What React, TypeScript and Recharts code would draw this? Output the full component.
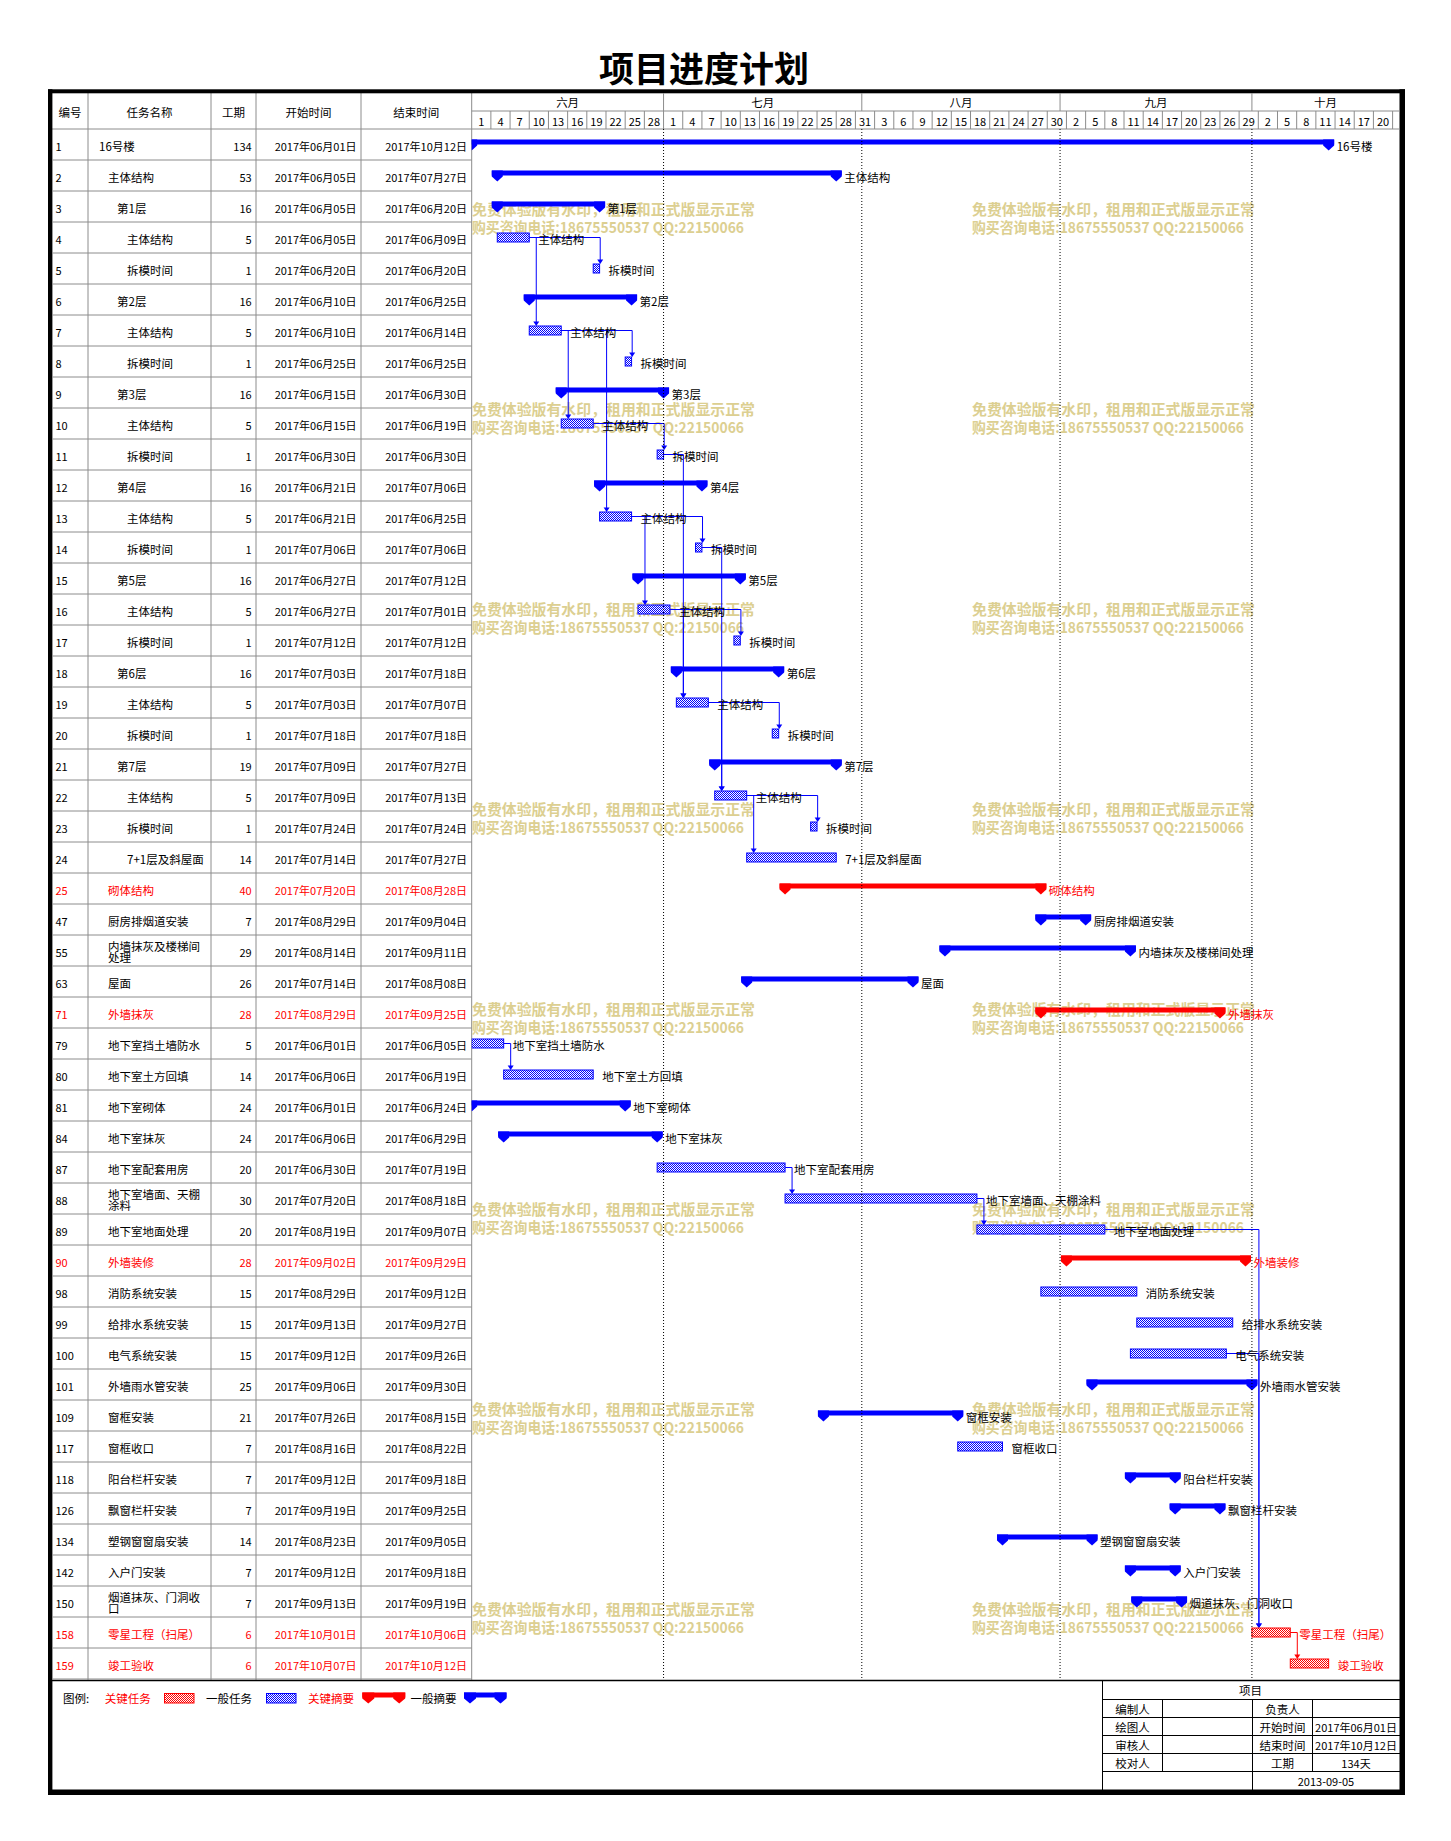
import React from 'react';
import { ComposedChart, Bar, XAxis, YAxis, ReferenceLine } from 'recharts';

// ---- 数据 ----
const taskIds = ['1', '2', '3', '4', '5', '6', '7', '8', '9', '10', '11', '12', '13', '14', '15', '16', '17', '18', '19', '20', '21', '22', '23', '24', '25', '47', '55', '63', '71', '79', '80', '81', '84', '87', '88', '89', '90', '98', '99', '100', '101', '109', '117', '118', '126', '134', '142', '150', '158', '159'];
const taskNames = ['16号楼', '主体结构', '第1层', '主体结构', '拆模时间', '第2层', '主体结构', '拆模时间', '第3层', '主体结构', '拆模时间', '第4层', '主体结构', '拆模时间', '第5层', '主体结构', '拆模时间', '第6层', '主体结构', '拆模时间', '第7层', '主体结构', '拆模时间', '7+1层及斜屋面', '砌体结构', '厨房排烟道安装', '内墙抹灰及楼梯间处理', '屋面', '外墙抹灰', '地下室挡土墙防水', '地下室土方回填', '地下室砌体', '地下室抹灰', '地下室配套用房', '地下室墙面、天棚涂料', '地下室地面处理', '外墙装修', '消防系统安装', '给排水系统安装', '电气系统安装', '外墙雨水管安装', '窗框安装', '窗框收口', '阳台栏杆安装', '飘窗栏杆安装', '塑钢窗窗扇安装', '入户门安装', '烟道抹灰、门洞收口', '零星工程（扫尾）', '竣工验收'];
const taskLevels = [0, 1, 2, 3, 3, 2, 3, 3, 2, 3, 3, 2, 3, 3, 2, 3, 3, 2, 3, 3, 2, 3, 3, 3, 1, 1, 1, 1, 1, 1, 1, 1, 1, 1, 1, 1, 1, 1, 1, 1, 1, 1, 1, 1, 1, 1, 1, 1, 1, 1];
const durations = [134, 53, 16, 5, 1, 16, 5, 1, 16, 5, 1, 16, 5, 1, 16, 5, 1, 16, 5, 1, 19, 5, 1, 14, 40, 7, 29, 26, 28, 5, 14, 24, 24, 20, 30, 20, 28, 15, 15, 15, 25, 21, 7, 7, 7, 14, 7, 7, 6, 6];
const startDates = ['06-01', '06-05', '06-05', '06-05', '06-20', '06-10', '06-10', '06-25', '06-15', '06-15', '06-30', '06-21', '06-21', '07-06', '06-27', '06-27', '07-12', '07-03', '07-03', '07-18', '07-09', '07-09', '07-24', '07-14', '07-20', '08-29', '08-14', '07-14', '08-29', '06-01', '06-06', '06-01', '06-06', '06-30', '07-20', '08-19', '09-02', '08-29', '09-13', '09-12', '09-06', '07-26', '08-16', '09-12', '09-19', '08-23', '09-12', '09-13', '10-01', '10-07'];
const endDates = ['10-12', '07-27', '06-20', '06-09', '06-20', '06-25', '06-14', '06-25', '06-30', '06-19', '06-30', '07-06', '06-25', '07-06', '07-12', '07-01', '07-12', '07-18', '07-07', '07-18', '07-27', '07-13', '07-24', '07-27', '08-28', '09-04', '09-11', '08-08', '09-25', '06-05', '06-19', '06-24', '06-29', '07-19', '08-18', '09-07', '09-29', '09-12', '09-27', '09-26', '09-30', '08-15', '08-22', '09-18', '09-25', '09-05', '09-18', '09-19', '10-06', '10-12'];
const summaryIds = ['1', '2', '3', '6', '9', '12', '15', '18', '21', '25', '47', '55', '63', '71', '81', '84', '90', '101', '109', '118', '126', '134', '142', '150'];
const criticalIds = ['25', '71', '90', '158', '159'];
const links: [string, string][] = [
  ['4', '5'], ['4', '7'], ['7', '8'], ['7', '10'], ['7', '13'], ['10', '11'], ['11', '19'],
  ['13', '14'], ['13', '16'], ['14', '22'], ['16', '17'], ['16', '19'], ['19', '20'], ['19', '22'],
  ['22', '23'], ['22', '24'], ['79', '80'], ['87', '88'], ['88', '89'], ['89', '158'], ['100', '158'], ['158', '159'],
];

const monthNames = ['六月', '七月', '八月', '九月', '十月'];
const monthStarts = [0, 30, 61, 92, 122];
const AXIS_END = 145;
const dayLabels = [
  1, 4, 7, 10, 13, 16, 19, 22, 25, 28,
  1, 4, 7, 10, 13, 16, 19, 22, 25, 28, 31,
  3, 6, 9, 12, 15, 18, 21, 24, 27, 30,
  2, 5, 8, 11, 14, 17, 20, 23, 26, 29,
  2, 5, 8, 11, 14, 17, 20,
];

const headerCols = ['编号', '任务名称', '工期', '开始时间', '结束时间'];
const legendItems = ['关键任务', '一般任务', '关键摘要', '一般摘要'];
const infoLeft = ['编制人', '绘图人', '审核人', '校对人'];
const infoRight = ['负责人', '开始时间', '结束时间', '工期'];
const infoValues = ['', '2017年06月01日', '2017年10月12日', '134天'];
const wmLine1 = '免费体验版有水印，租用和正式版显示正常';
const wmLine2 = '购买咨询电话:18675550537 QQ:22150066';

// ---- 布局 ----
const W = 1451;
const H = 1841;
const PLOT_L = 471.7;
const PLOT_R = 1399;
const PLOT_T = 129;
const PLOT_B = 1679;
const ROW_H = 31;
const COL_X = [88, 211, 256, 361, PLOT_L];
const HEAD_X = [70, 149.5, 233.5, 308.5, 416.3];
const NAME_X = [99, 108, 117, 127];
const FONT = '"Noto Sans CJK SC", "Noto Sans", sans-serif';
const BLUE = '#0000ff';
const RED = '#ff0000';
const GRID = '#8c8c8c';
const WM = '#dccf91';

const MONTH_OFFSET: Record<string, number> = { '06': 0, '07': 30, '08': 61, '09': 92, '10': 122 };
const dayIndex = (md: string) => MONTH_OFFSET[md.slice(0, 2)] + Number(md.slice(3)) - 1;
const fmtDate = (md: string) => `2017年${md.slice(0, 2)}月${md.slice(3)}日`;

type Row = {
  key: string; index: number; name: string; level: number; duration: number;
  startDate: string; endDate: string; offset: number; span: number;
  summary: boolean; critical: boolean; succ: string[];
};

const rows: Row[] = taskIds.map((id, i) => {
  const s = dayIndex(startDates[i]);
  const e = dayIndex(endDates[i]) + 1;
  return {
    key: id, index: i, name: taskNames[i], level: taskLevels[i], duration: durations[i],
    startDate: startDates[i], endDate: endDates[i], offset: s, span: e - s,
    summary: summaryIds.includes(id), critical: criticalIds.includes(id),
    succ: links.filter((l) => l[0] === id).map((l) => l[1]),
  };
});
const rowMap: Record<string, Row> = Object.fromEntries(rows.map((r) => [r.key, r]));

const dayLabelTicks = dayLabels.map((_, i) => i * 3 + 1.5);
const cellTicks = Array.from({ length: 48 }, (_, i) => (i + 1) * 3);
const gridTicks = Array.from(new Set([...cellTicks, ...monthStarts.slice(1)])).sort((a, b) => a - b);
const monthEnds = [...monthStarts.slice(1), AXIS_END];
const monthMidTicks = monthStarts.map((s, i) => (s + monthEnds[i]) / 2);

const capPoints = (cx: number, top: number, hw = 5.5) =>
  `${cx - hw},${top} ${cx + hw},${top} ${cx + hw},${top + 6} ${cx},${top + 11} ${cx - hw},${top + 6}`;

// ---- 刻度渲染 ----
const renderDayTick = (props: any) => {
  const i = Math.round((props.payload.value - 1.5) / 3);
  return (
    <text x={props.x} y={120.5} textAnchor="middle" dominantBaseline="central" fontSize={11} fontFamily={FONT} fill="#000">
      {dayLabels[i]}
    </text>
  );
};

// 表头分隔线与月份虚线，位置取自 x 轴比例尺
const gridShape = (v: number) => (p: any) => (
  <g>
    {v % 3 === 0 && <line x1={p.x1} x2={p.x1} y1={111} y2={PLOT_T} stroke={GRID} />}
    {monthStarts.includes(v) && <line x1={p.x1} x2={p.x1} y1={93} y2={111} stroke={GRID} />}
    {monthStarts.includes(v) && (
      <line x1={p.x1} x2={p.x2} y1={p.y1} y2={p.y2} stroke="#000" strokeWidth={1} strokeDasharray="1 2" />
    )}
  </g>
);

const monthShape = (i: number) => (p: any) => (
  <text x={p.x1} y={102} textAnchor="middle" dominantBaseline="central" fontSize={11.5} fontFamily={FONT} fill="#000">
    {monthNames[i]}
  </text>
);

const renderRowTick = (props: any) => {
  const { y, payload } = props;
  const r = rowMap[payload.value];
  if (!r) return <g />;
  const color = r.critical ? RED : '#000';
  const nameLines = r.name.length > 8 ? [r.name.slice(0, 8), r.name.slice(8)] : [r.name];
  return (
    <g fontFamily={FONT} fill={color}>
      <text x={55.5} y={y + 1} fontSize={11} dominantBaseline="central">{r.key}</text>
      {nameLines.map((s, k) => (
        <text key={k} x={NAME_X[r.level]} y={nameLines.length === 1 ? y + 1 : y - 5 + k * 11.5} fontSize={11.5} dominantBaseline="central">{s}</text>
      ))}
      <text x={251.7} y={y + 1} fontSize={11} textAnchor="end" dominantBaseline="central">{r.duration}</text>
      <text x={356.5} y={y + 1} fontSize={11} textAnchor="end" dominantBaseline="central">{fmtDate(r.startDate)}</text>
      <text x={467} y={y + 1} fontSize={11} textAnchor="end" dominantBaseline="central">{fmtDate(r.endDate)}</text>
      <line x1={52} x2={PLOT_L} y1={y + ROW_H / 2} y2={y + ROW_H / 2} stroke={GRID} />
    </g>
  );
};

// ---- 横道 ----
const renderBar = (props: any) => {
  const { x, y, width, height, payload } = props;
  const r: Row = payload;
  const cy = y + height / 2;
  const color = r.critical ? RED : BLUE;
  const x2 = x + width;
  const ppd = width / r.span;
  return (
    <g>
      {r.summary ? (
        <g fill={color}>
          <rect x={x - 5.5} y={cy - 5} width={width + 11} height={5} />
          <polygon points={capPoints(x, cy - 5)} />
          <polygon points={capPoints(x2, cy - 5)} />
        </g>
      ) : (
        <rect x={x} y={cy - 4.5} width={width} height={9} fill={r.critical ? 'url(#hatchRed)' : 'url(#hatchBlue)'} stroke={color} strokeWidth={1} />
      )}
      {r.succ.map((sid) => {
        const t = rowMap[sid];
        const sx = x + (t.offset - r.offset) * ppd;
        const vx = Math.max(sx, x2) + 7;
        const top = y + (t.index - r.index) * height + height / 2 - 4.5;
        const lc = r.critical && t.critical ? RED : BLUE;
        return (
          <g key={sid}>
            <path d={`M${x2},${cy} H${vx} V${top - 4}`} fill="none" stroke={lc} strokeWidth={1} />
            <polygon points={`${vx - 3},${top - 4.5} ${vx + 3},${top - 4.5} ${vx},${top}`} fill={lc} />
          </g>
        );
      })}
      <text x={x2 + (r.summary ? 8 : 9)} y={cy + 1} fontSize={11.5} fontFamily={FONT} dominantBaseline="central" fill={r.critical ? RED : '#000'}>
        {r.name}
      </text>
    </g>
  );
};

function Underlay() {
  const wmRows = Array.from({ length: 8 }, (_, k) => 208 + k * 200);
  const txt = { fontFamily: FONT, fontSize: 11.5, dominantBaseline: 'central' as const };
  return (
    <svg width={W} height={H} style={{ position: 'absolute', left: 0, top: 0 }}>
      <defs>
        <pattern id="hatchBlue" width={2} height={2} patternUnits="userSpaceOnUse">
          <rect width={2} height={2} fill="#fff" />
          <rect width={1} height={1} fill={BLUE} />
          <rect x={1} y={1} width={1} height={1} fill={BLUE} />
        </pattern>
        <pattern id="hatchRed" width={2} height={2} patternUnits="userSpaceOnUse">
          <rect width={2} height={2} fill="#fff" />
          <rect width={1} height={1} fill={RED} />
          <rect x={1} y={1} width={1} height={1} fill={RED} />
        </pattern>
      </defs>

      <text x={704} y={66} textAnchor="middle" dominantBaseline="central" fontSize={35} fontWeight={700} fontFamily={FONT} fill="#000">
        项目进度计划
      </text>

      {wmRows.map((wy) =>
        [472, 972].map((wx) => (
          <g key={`${wx}-${wy}`} fontFamily={FONT} fontSize={15} fontWeight={700} fill={WM}>
            <text x={wx} y={wy} dominantBaseline="central" textLength={283} lengthAdjust="spacingAndGlyphs">{wmLine1}</text>
            <text x={wx} y={wy + 18} dominantBaseline="central" textLength={272} lengthAdjust="spacingAndGlyphs">{wmLine2}</text>
          </g>
        ))
      )}

      {/* 表头与网格 */}
      {COL_X.map((cx) => (
        <line key={cx} x1={cx} x2={cx} y1={93} y2={1680} stroke={GRID} />
      ))}
      <line x1={52} x2={PLOT_R} y1={PLOT_T} y2={PLOT_T} stroke={GRID} />
      <line x1={PLOT_L} x2={PLOT_R} y1={111} y2={111} stroke={GRID} />
      {headerCols.map((h, i) => (
        <text key={h} x={HEAD_X[i]} y={111.5} textAnchor="middle" {...txt} fill="#000">{h}</text>
      ))}
      <line x1={48} x2={1402} y1={1680.5} y2={1680.5} stroke="#000" strokeWidth={1.5} />

      {/* 图例 */}
      <text x={63} y={1698} {...txt} fill="#000">图例:</text>
      <text x={104.7} y={1698} {...txt} fill={RED}>{legendItems[0]}</text>
      <rect x={164.5} y={1693.5} width={29.5} height={9.5} fill="url(#hatchRed)" stroke={RED} />
      <text x={206} y={1698} {...txt} fill="#000">{legendItems[1]}</text>
      <rect x={266.5} y={1693.5} width={29.5} height={9.5} fill="url(#hatchBlue)" stroke={BLUE} />
      <text x={308} y={1698} {...txt} fill={RED}>{legendItems[2]}</text>
      <g fill={RED}>
        <rect x={362.3} y={1692.5} width={43} height={5} />
        <polygon points={capPoints(368.3, 1692.5, 6)} />
        <polygon points={capPoints(399.2, 1692.5, 6)} />
      </g>
      <text x={410.5} y={1698} {...txt} fill="#000">{legendItems[3]}</text>
      <g fill={BLUE}>
        <rect x={464} y={1692.5} width={42.5} height={5} />
        <polygon points={capPoints(470, 1692.5, 6)} />
        <polygon points={capPoints(500.5, 1692.5, 6)} />
      </g>

      {/* 信息框 */}
      <g stroke="#000" strokeWidth={1}>
        <line x1={1102.5} x2={1102.5} y1={1680} y2={1790} />
        {[1699, 1717, 1735, 1753, 1771].map((ly) => (
          <line key={ly} x1={1102.5} x2={1400} y1={ly + 0.5} y2={ly + 0.5} />
        ))}
        <line x1={1162.5} x2={1162.5} y1={1699} y2={1771} />
        <line x1={1252.5} x2={1252.5} y1={1699} y2={1790} />
        <line x1={1312.5} x2={1312.5} y1={1699} y2={1771} />
      </g>
      <text x={1250.5} y={1690} textAnchor="middle" {...txt} fill="#000">项目</text>
      {infoLeft.map((s, i) => (
        <g key={s}>
          <text x={1132.5} y={1708.5 + i * 18} textAnchor="middle" {...txt} fill="#000">{s}</text>
          <text x={1282.5} y={1708.5 + i * 18} textAnchor="middle" {...txt} fill="#000">{infoRight[i]}</text>
          <text x={1356} y={1708.5 + i * 18} textAnchor="middle" {...txt} fontSize={11} fill="#000">{infoValues[i]}</text>
        </g>
      ))}
      <text x={1326} y={1780.5} textAnchor="middle" {...txt} fontSize={11} fill="#000">2013-09-05</text>

      {/* 外框 */}
      <g fill="#000">
        <rect x={48} y={89.3} width={1357} height={4} />
        <rect x={48} y={89.3} width={4.4} height={1705.7} />
        <rect x={1399.5} y={89.3} width={5.5} height={1705.7} />
        <rect x={48} y={1789.5} width={1357} height={5.5} />
      </g>
    </svg>
  );
}

export default function App() {
  return (
    <div style={{ position: 'absolute', left: 0, top: 0, width: W, height: H, background: '#fff' }}>
      <Underlay />
      <div style={{ position: 'absolute', left: 0, top: 0 }}>
        <ComposedChart
          width={W}
          height={H}
          data={rows}
          layout="vertical"
          margin={{ top: 93, right: W - PLOT_R, bottom: H - PLOT_B, left: 48 }}
          barCategoryGap={0}
          barGap={0}
        >
          <XAxis type="number" orientation="top" domain={[0, AXIS_END]} allowDataOverflow ticks={dayLabelTicks} interval={0} height={36} axisLine={false} tickLine={false} tick={renderDayTick} />
          <YAxis type="category" dataKey="key" width={PLOT_L - 48} interval={0} axisLine={false} tickLine={false} tick={renderRowTick} />
          {gridTicks.map((v) => (
            <ReferenceLine key={`g${v}`} x={v} stroke="none" ifOverflow="visible" shape={gridShape(v)} />
          ))}
          {monthMidTicks.map((v, i) => (
            <ReferenceLine key={`m${v}`} x={v} stroke="none" ifOverflow="visible" shape={monthShape(i)} />
          ))}
          <Bar dataKey="offset" stackId="g" fill="transparent" isAnimationActive={false} />
          <Bar dataKey="span" stackId="g" shape={renderBar} isAnimationActive={false} />
        </ComposedChart>
      </div>
    </div>
  );
}
